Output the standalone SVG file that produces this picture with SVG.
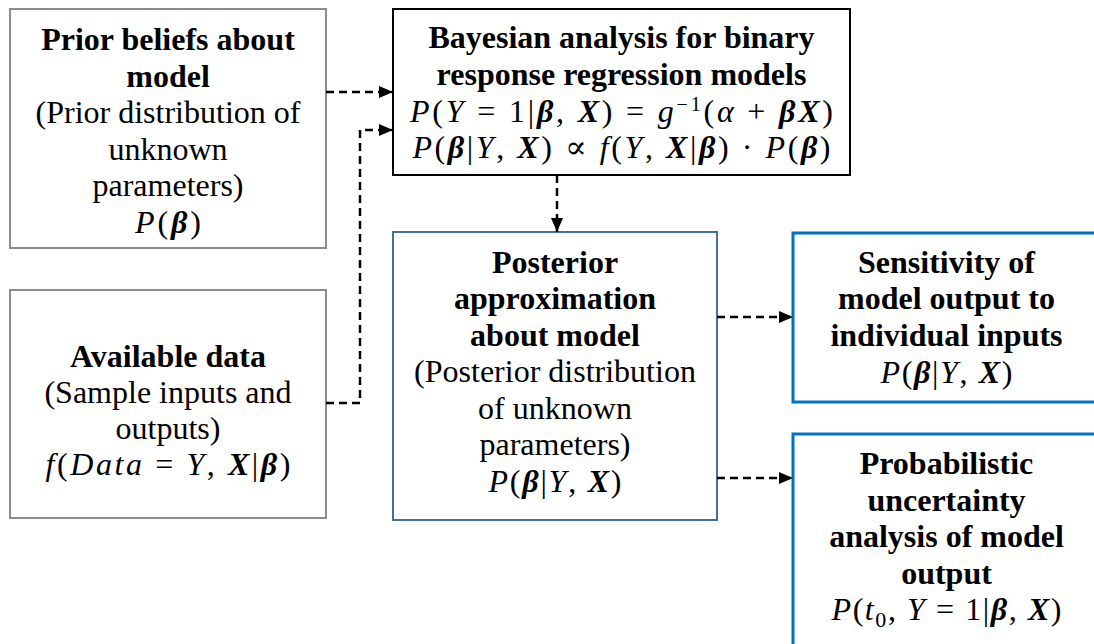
<svg xmlns="http://www.w3.org/2000/svg" width="1094" height="644" viewBox="0 0 1094 644">
<style>
text{font-family:"Liberation Serif","DejaVu Serif",serif;font-size:32px;fill:#000;text-anchor:middle}
.b{font-weight:bold}
.i{font-style:italic}
.bi{font-style:italic;font-weight:bold}
.gray{fill:#fff;stroke:#8C8C8C;stroke-width:2}
.blk{fill:#fff;stroke:#000;stroke-width:2}
.post{fill:#fff;stroke:#41719C;stroke-width:2}
.blue{fill:#fff;stroke:#0070C0;stroke-width:3}
.conn{fill:none;stroke:#000;stroke-width:2.5;stroke-dasharray:8,5;marker-end:url(#ah)}
</style>
<defs>
<marker id="ah" markerUnits="userSpaceOnUse" markerWidth="14" markerHeight="12" refX="14" refY="6" orient="auto">
<path d="M0,0 L14,6 L0,12 Z" fill="#000"/>
</marker>
</defs>
<g id="prior">
<rect class="gray" x="10" y="9" width="316" height="239"/>
<text class="b" x="168" y="50">Prior beliefs about</text>
<text class="b" x="168" y="86.5">model</text>
<text x="168" y="123">(Prior distribution of</text>
<text x="168" y="159.5">unknown</text>
<text x="168" y="196">parameters)</text>
<text x="168" y="232.5" textLength="66" lengthAdjust="spacing"><tspan class="i">P</tspan>(<tspan class="bi">β</tspan>)</text>
</g>
<g id="data">
<rect class="gray" x="10" y="290" width="316" height="228"/>
<text class="b" x="168" y="367">Available data</text>
<text x="168" y="403">(Sample inputs and</text>
<text x="168" y="439">outputs)</text>
<text x="168" y="475" textLength="245" lengthAdjust="spacing"><tspan class="i">f</tspan>(<tspan class="i">Data</tspan> = <tspan class="i">Y</tspan>, <tspan class="bi">X</tspan>|<tspan class="bi">β</tspan>)</text>
</g>
<g id="bayes">
<rect class="blk" x="393" y="9" width="457" height="166"/>
<text class="b" x="621.5" y="48">Bayesian analysis for binary</text>
<text class="b" x="621.5" y="84.5">response regression models</text>
<text x="621.5" y="121.5" textLength="423" lengthAdjust="spacing"><tspan class="i">P</tspan>(<tspan class="i">Y</tspan> = 1|<tspan class="bi">β</tspan>, <tspan class="bi">X</tspan>) = <tspan class="i">g</tspan><tspan font-size="20" dy="-11">−1</tspan><tspan dy="11">(</tspan><tspan class="i">α</tspan> + <tspan class="bi">βX</tspan>)</text>
<text x="621.5" y="158" textLength="418" lengthAdjust="spacing"><tspan class="i">P</tspan>(<tspan class="bi">β</tspan>|<tspan class="i">Y</tspan>, <tspan class="bi">X</tspan>) ∝ <tspan class="i">f</tspan>(<tspan class="i">Y</tspan>, <tspan class="bi">X</tspan>|<tspan class="bi">β</tspan>) · <tspan class="i">P</tspan>(<tspan class="bi">β</tspan>)</text>
</g>
<g id="posterior">
<rect class="post" x="393" y="232" width="324" height="288"/>
<text class="b" x="555" y="272.5">Posterior</text>
<text class="b" x="555" y="309">approximation</text>
<text class="b" x="555" y="345.5">about model</text>
<text x="555" y="382">(Posterior distribution</text>
<text x="555" y="418.5">of unknown</text>
<text x="555" y="455">parameters)</text>
<text x="555" y="491.5" textLength="133" lengthAdjust="spacing"><tspan class="i">P</tspan>(<tspan class="bi">β</tspan>|<tspan class="i">Y</tspan>, <tspan class="bi">X</tspan>)</text>
</g>
<g id="sensitivity">
<rect class="blue" x="793" y="233" width="320" height="169"/>
<text class="b" x="946.5" y="272.5">Sensitivity of</text>
<text class="b" x="946.5" y="309">model output to</text>
<text class="b" x="946.5" y="345.5">individual inputs</text>
<text x="946.5" y="382.5" textLength="132" lengthAdjust="spacing"><tspan class="i">P</tspan>(<tspan class="bi">β</tspan>|<tspan class="i">Y</tspan>, <tspan class="bi">X</tspan>)</text>
</g>
<g id="uncertainty">
<rect class="blue" x="793" y="434" width="320" height="230"/>
<text class="b" x="946.5" y="474">Probabilistic</text>
<text class="b" x="946.5" y="510.5">uncertainty</text>
<text class="b" x="946.5" y="547">analysis of model</text>
<text class="b" x="946.5" y="583.5">output</text>
<text x="946.5" y="620" textLength="230" lengthAdjust="spacing"><tspan class="i">P</tspan>(<tspan class="i">t</tspan><tspan font-size="22" dy="7">0</tspan><tspan dy="-7">,</tspan> <tspan class="i">Y</tspan> = 1|<tspan class="bi">β</tspan>, <tspan class="bi">X</tspan>)</text>
</g>
<g id="connectors">
<path class="conn" d="M326,92 H393"/>
<path class="conn" d="M326,403 H360 V130 H393"/>
<path class="conn" d="M557,175 V232"/>
<path class="conn" d="M717,317 H793"/>
<path class="conn" d="M717,478 H793"/>
</g>
</svg>
